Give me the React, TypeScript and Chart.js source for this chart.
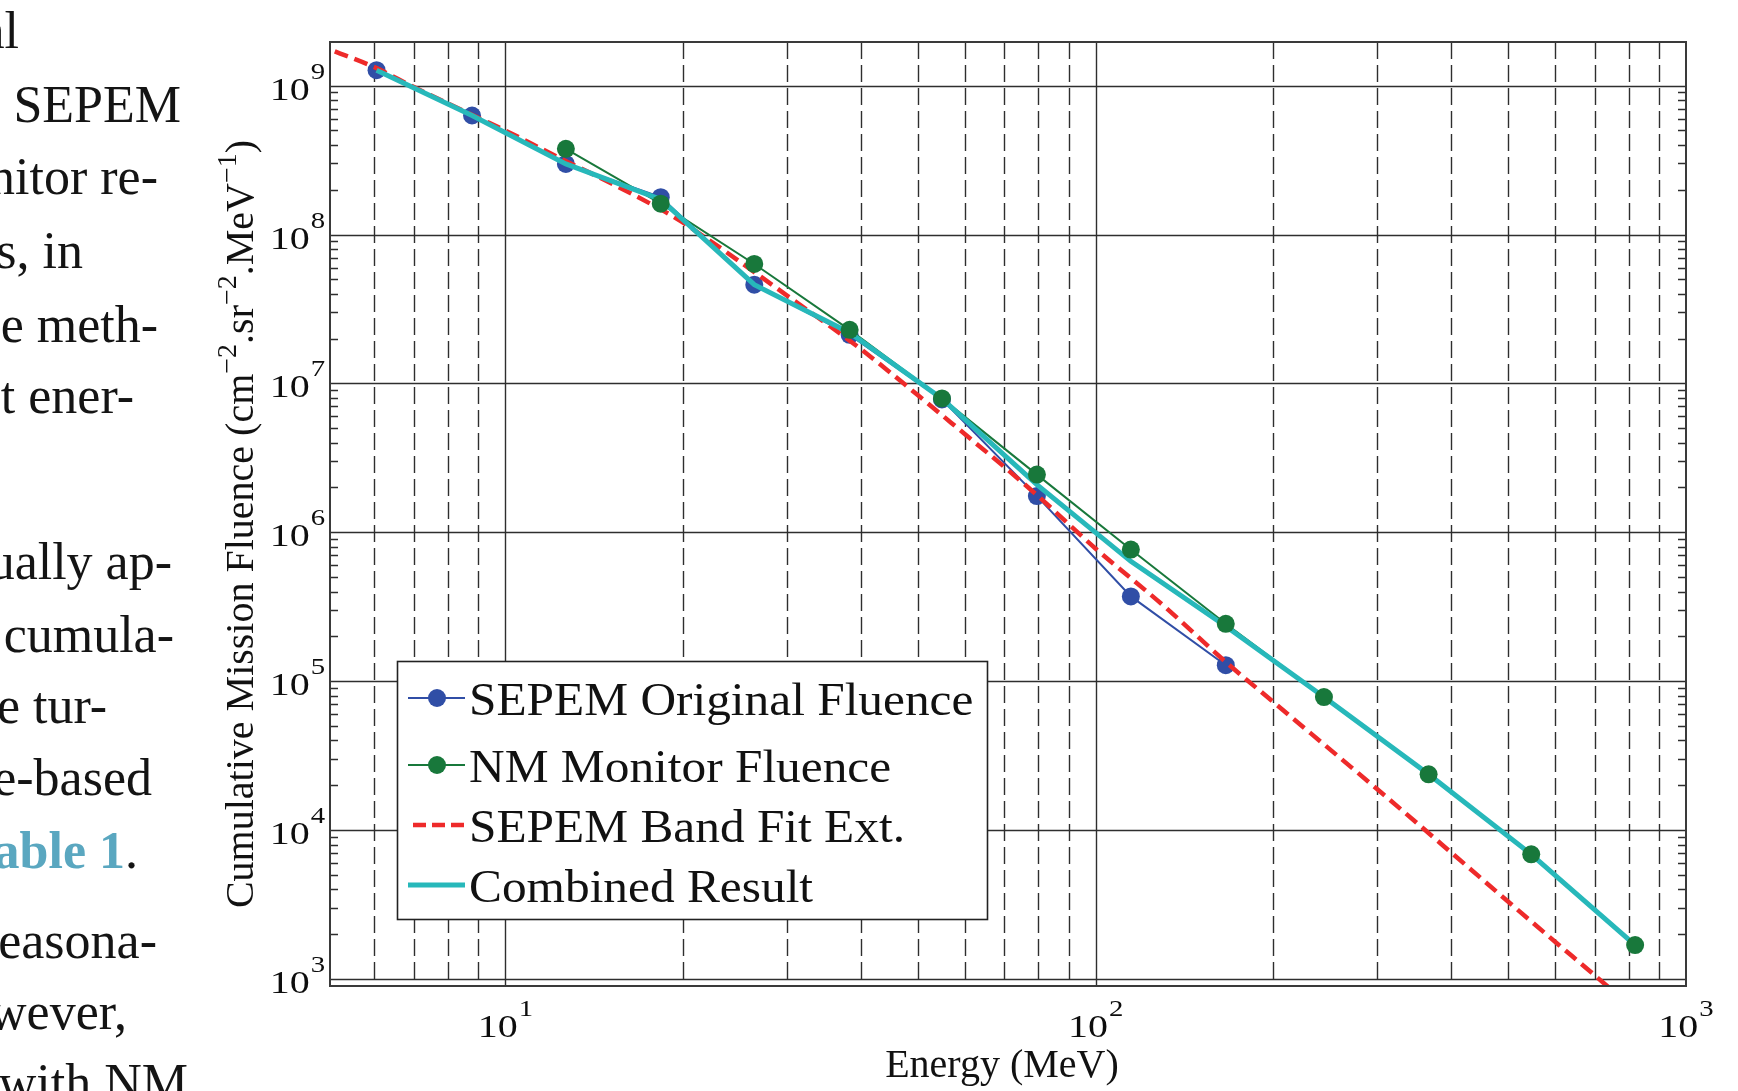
import React, { useEffect, useRef } from "react";
import { Chart, registerables } from "chart.js";

Chart.register(...registerables);

const W = 1738;
const H = 1091;

// ---- Data ----
const energySepemMeV = [6.05, 8.78, 12.66, 18.33, 26.4, 38.3, 54.9, 79.5, 114.7, 166.1];
const sepemOriginalFluence = [1.27e9, 6.3e8, 2.98e8, 1.78e8, 4.6e7, 2.12e7, 7.8e6, 1.75e6, 3.71e5, 1.28e5];

const energyNmMeV = [12.66, 18.33, 26.4, 38.3, 54.9, 79.5, 114.7, 166.1, 243.6, 366.4, 546.8, 820];
const nmMonitorFluence = [3.76e8, 1.61e8, 6.34e7, 2.29e7, 7.93e6, 2.44e6, 7.66e5, 2.43e5, 7.82e4, 2.37e4, 6.87e3, 1.69e3];

const energyCombinedMeV = [6.05, 8.78, 12.66, 18.33, 26.4, 38.3, 54.9, 79.5, 114.7, 166.1, 243.6, 366.4, 546.8, 820];
const combinedFluence = [1.27e9, 6.3e8, 2.98e8, 1.72e8, 4.6e7, 2.19e7, 7.9e6, 2.09e6, 6.38e5, 2.34e5, 7.82e4, 2.37e4, 6.87e3, 1.69e3];

const energyBandFitMeV = [5.14, 6, 7, 9, 10, 12.6, 14.45, 18.3, 20, 30, 40, 50, 60, 70, 80, 100, 130, 167, 200, 300, 400, 500, 600, 700, 800];
const bandFitFluence = [1.7e9, 1.33e9, 9.77e8, 6.07e8, 4.99e8, 3.14e8, 2.41e8, 1.48e8, 1.2e8, 3.89e7, 1.7e7, 8.32e6, 4.57e6, 2.75e6, 1.74e6, 7.76e5, 3.24e5, 1.32e5, 7.24e4, 1.88e4, 7.08e3, 3.3e3, 1.78e3, 1.06e3, 6.7e2];

const xDecades = [10, 100, 1000];
const xExponents = ["1", "2", "3"];
const yDecades = [1e3, 1e4, 1e5, 1e6, 1e7, 1e8, 1e9];
const yExponents = ["3", "4", "5", "6", "7", "8", "9"];
const minorMultipliers = [2, 3, 4, 5, 6, 7, 8, 9];

const seriesLabels = ["SEPEM Original Fluence", "NM Monitor Fluence", "SEPEM Band Fit Ext.", "Combined Result"];
const xAxisTitle = "Energy (MeV)";
const yAxisTitleParts = [
  { t: "Cumulative Mission Fluence (cm", sup: false },
  { t: "\u22122", sup: true },
  { t: ".sr", sup: false },
  { t: "\u22122", sup: true },
  { t: ".MeV", sup: false },
  { t: "\u22121", sup: true },
  { t: ")", sup: false },
];

const bodyTextLines = [
  { text: "al", right: 19, base: 48 },
  { text: " SEPEM", right: 181, base: 122 },
  { text: "nitor re-", right: 158, base: 194 },
  { text: "s, in", right: 83, base: 268 },
  { text: "e meth-", right: 158, base: 342 },
  { text: "t ener-", right: 134, base: 413 },
  { text: "ually ap-", right: 172, base: 579 },
  { text: " cumula-", right: 174, base: 652 },
  { text: "e tur-", right: 107, base: 723 },
  { text: "e-based", right: 152, base: 795 },
  { text: "", right: 138, base: 868 },
  { text: "easona-", right: 157, base: 958 },
  { text: "wever,", right: 127, base: 1029 },
  { text: "with NM", right: 188, base: 1100 },
];

const BLUE = "#304ea6";
const GREEN = "#18783b";
const RED = "#ee2a2a";
const CYAN = "#27b8ba";
const GRID = "#2e2e2e";
const SERIF = '"Liberation Serif", "Times New Roman", serif';

const pts = (xs: number[], ys: number[]) => xs.map((x, i) => ({ x, y: ys[i] }));

function drawPower(ctx: CanvasRenderingContext2D, exp: string, x: number, yBase: number, align: "right" | "center") {
  const sx = 1.25;
  ctx.font = `32px ${SERIF}`;
  const w1 = ctx.measureText("10").width * sx;
  ctx.font = `23px ${SERIF}`;
  const w2 = ctx.measureText(exp).width * sx;
  const gap = 1;
  const total = w1 + gap + w2;
  const x0 = align === "right" ? x - total : x - total / 2;
  ctx.textAlign = "left";
  ctx.textBaseline = "alphabetic";
  ctx.fillStyle = "#0d0d0d";
  ctx.save();
  ctx.translate(x0, yBase);
  ctx.scale(sx, 1);
  ctx.font = `32px ${SERIF}`;
  ctx.fillText("10", 0, 0);
  ctx.restore();
  ctx.save();
  ctx.translate(x0 + w1 + gap, yBase - 21);
  ctx.scale(sx, 1);
  ctx.font = `23px ${SERIF}`;
  ctx.fillText(exp, 0, 0);
  ctx.restore();
}

const customPlugin = {
  id: "customDecor",
  beforeDraw(chart: any) {
    const ctx = chart.ctx as CanvasRenderingContext2D;
    ctx.save();
    ctx.fillStyle = "#fff";
    ctx.fillRect(0, 0, chart.width, chart.height);
    ctx.restore();
  },
  beforeDatasetsDraw(chart: any) {
    const ctx = chart.ctx as CanvasRenderingContext2D;
    const { left, right, top, bottom } = chart.chartArea;
    const xs = chart.scales.x;
    const ys = chart.scales.y;
    ctx.save();
    ctx.beginPath();
    ctx.rect(left, top, right - left, bottom - top);
    ctx.clip();
    ctx.strokeStyle = GRID;
    ctx.lineWidth = 1.4;
    for (const v of yDecades) {
      const py = Math.round(ys.getPixelForValue(v)) + 0.5;
      ctx.setLineDash([]);
      ctx.beginPath();
      ctx.moveTo(left, py);
      ctx.lineTo(right, py);
      ctx.stroke();
    }
    for (const d of [1, 10, 100]) {
      for (const m of [1, ...minorMultipliers]) {
        const v = m * d;
        if (v <= xs.min || v >= xs.max) continue;
        const px = Math.round(xs.getPixelForValue(v)) + 0.5;
        ctx.setLineDash(m === 1 ? [] : [17, 6]);
        ctx.beginPath();
        ctx.moveTo(px, top);
        ctx.lineTo(px, bottom);
        ctx.stroke();
      }
    }
    ctx.setLineDash([]);
    ctx.lineWidth = 1.5;
    for (let e = 2; e <= 9; e++) {
      for (const m of minorMultipliers) {
        const v = m * Math.pow(10, e);
        if (v <= ys.min || v >= ys.max) continue;
        const py = Math.round(ys.getPixelForValue(v)) + 0.5;
        ctx.beginPath();
        ctx.moveTo(left, py);
        ctx.lineTo(left + 8, py);
        ctx.moveTo(right - 8, py);
        ctx.lineTo(right, py);
        ctx.stroke();
      }
    }
    ctx.restore();
  },
  afterDatasetsDraw(chart: any) {
    const ctx = chart.ctx as CanvasRenderingContext2D;
    const { left, right, top, bottom } = chart.chartArea;
    ctx.save();
    ctx.strokeStyle = "#3a3a3a";
    ctx.lineWidth = 2;
    ctx.setLineDash([]);
    ctx.strokeRect(left, top, right - left, bottom - top);

    const lx0 = 397, ly0 = 661, lx1 = 987, ly1 = 919;
    ctx.fillStyle = "#fff";
    ctx.fillRect(lx0, ly0, lx1 - lx0, ly1 - ly0);
    ctx.strokeStyle = "#222";
    ctx.lineWidth = 1.6;
    ctx.strokeRect(lx0 + 0.5, ly0 + 0.5, lx1 - lx0, ly1 - ly0);
    const baselines = [715, 782, 842, 902];
    const styles = [
      { color: BLUE, width: 2, dash: [] as number[], marker: true },
      { color: GREEN, width: 2, dash: [] as number[], marker: true },
      { color: RED, width: 4.5, dash: [13, 6], marker: false },
      { color: CYAN, width: 5, dash: [] as number[], marker: false },
    ];
    seriesLabels.forEach((label, i) => {
      const st = styles[i];
      const ly = baselines[i] - 17;
      ctx.save();
      ctx.strokeStyle = st.color;
      ctx.lineWidth = st.width;
      ctx.setLineDash(st.dash);
      ctx.beginPath();
      ctx.moveTo(st.dash.length ? 413 : 408, ly);
      ctx.lineTo(465, ly);
      ctx.stroke();
      ctx.restore();
      if (st.marker) {
        ctx.fillStyle = st.color;
        ctx.beginPath();
        ctx.arc(437, ly, 9, 0, Math.PI * 2);
        ctx.fill();
      }
      ctx.save();
      ctx.translate(469, baselines[i]);
      ctx.scale(1.05, 1);
      ctx.font = `47px ${SERIF}`;
      ctx.fillStyle = "#111";
      ctx.textAlign = "left";
      ctx.textBaseline = "alphabetic";
      ctx.fillText(label, 0, 0);
      ctx.restore();
    });
    ctx.restore();
  },
  afterDraw(chart: any) {
    const ctx = chart.ctx as CanvasRenderingContext2D;
    const { left, right, bottom } = chart.chartArea;
    const xs = chart.scales.x;
    const ys = chart.scales.y;
    ctx.save();
    yDecades.forEach((v, i) => {
      const py = ys.getPixelForValue(v);
      drawPower(ctx, yExponents[i], left - 5, py + 14, "right");
    });
    xDecades.forEach((v, i) => {
      const px = xs.getPixelForValue(v);
      drawPower(ctx, xExponents[i], px, bottom + 51, "center");
    });
    ctx.fillStyle = "#111";
    ctx.font = `40px ${SERIF}`;
    ctx.textAlign = "center";
    ctx.textBaseline = "alphabetic";
    ctx.fillText(xAxisTitle, (left + right) / 2 - 6, 1077);

    ctx.save();
    ctx.translate(253, 524);
    ctx.rotate(-Math.PI / 2);
    ctx.textAlign = "left";
    const mainFont = `40px ${SERIF}`;
    const supFont = `28px ${SERIF}`;
    let total = 0;
    for (const p of yAxisTitleParts) {
      ctx.font = p.sup ? supFont : mainFont;
      total += ctx.measureText(p.t).width;
    }
    let tx = -total / 2;
    for (const p of yAxisTitleParts) {
      ctx.font = p.sup ? supFont : mainFont;
      ctx.fillText(p.t, tx, p.sup ? -17 : 0);
      tx += ctx.measureText(p.t).width;
    }
    ctx.restore();

    ctx.textAlign = "right";
    ctx.fillStyle = "#141414";
    ctx.font = `52px ${SERIF}`;
    for (const ln of bodyTextLines) {
      if (ln.text) ctx.fillText(ln.text, ln.right, ln.base);
    }
    ctx.font = `52px ${SERIF}`;
    const dotW = ctx.measureText(".").width;
    ctx.fillText(".", 138, 868);
    ctx.font = `bold 52px ${SERIF}`;
    ctx.fillStyle = "#5aa7c0";
    ctx.fillText("able 1", 138 - dotW, 868);
    ctx.restore();
  },
};

export default function App() {
  const canvasRef = useRef<HTMLCanvasElement | null>(null);

  useEffect(() => {
    const canvas = canvasRef.current;
    if (!canvas) return;
    const chart = new Chart(canvas, {
      type: "line",
      data: {
        datasets: [
          {
            label: "NM Monitor Fluence markers",
            data: pts(energyNmMeV, nmMonitorFluence),
            showLine: false,
            pointRadius: 9,
            pointHoverRadius: 9,
            pointBackgroundColor: GREEN,
            pointBorderColor: GREEN,
            pointBorderWidth: 0,
            borderColor: GREEN,
          },
          {
            label: seriesLabels[3],
            data: pts(energyCombinedMeV, combinedFluence),
            borderColor: CYAN,
            borderWidth: 5,
            pointRadius: 0,
            tension: 0,
            fill: false,
          },
          {
            label: seriesLabels[2],
            data: pts(energyBandFitMeV, bandFitFluence),
            borderColor: RED,
            borderWidth: 4.5,
            borderDash: [14, 7],
            pointRadius: 0,
            cubicInterpolationMode: "monotone",
            fill: false,
          },
          {
            label: seriesLabels[1],
            data: pts(energyNmMeV, nmMonitorFluence),
            borderColor: GREEN,
            borderWidth: 2,
            pointRadius: 0,
            tension: 0,
            fill: false,
          },
          {
            label: seriesLabels[0],
            data: pts(energySepemMeV, sepemOriginalFluence),
            borderColor: BLUE,
            borderWidth: 2,
            pointRadius: 9,
            pointHoverRadius: 9,
            pointBackgroundColor: BLUE,
            pointBorderColor: BLUE,
            pointBorderWidth: 0,
            tension: 0,
            fill: false,
          },
        ],
      },
      options: {
        responsive: false,
        animation: false,
        devicePixelRatio: 1,
        events: [],
        layout: { padding: { left: 330, top: 42, right: 52, bottom: 105 } },
        plugins: { legend: { display: false }, tooltip: { enabled: false } },
        scales: {
          x: { type: "logarithmic", min: 5.045, max: 1000, display: false },
          y: { type: "logarithmic", min: 897, max: 1.963e9, display: false },
        },
      },
      plugins: [customPlugin],
    } as any);
    return () => chart.destroy();
  }, []);

  return (
    <div style={{ position: "fixed", left: 0, top: 0, width: W, height: H, background: "#fff", overflow: "hidden" }}>
      <canvas ref={canvasRef} width={W} height={H} style={{ display: "block", width: W, height: H }} />
    </div>
  );
}
